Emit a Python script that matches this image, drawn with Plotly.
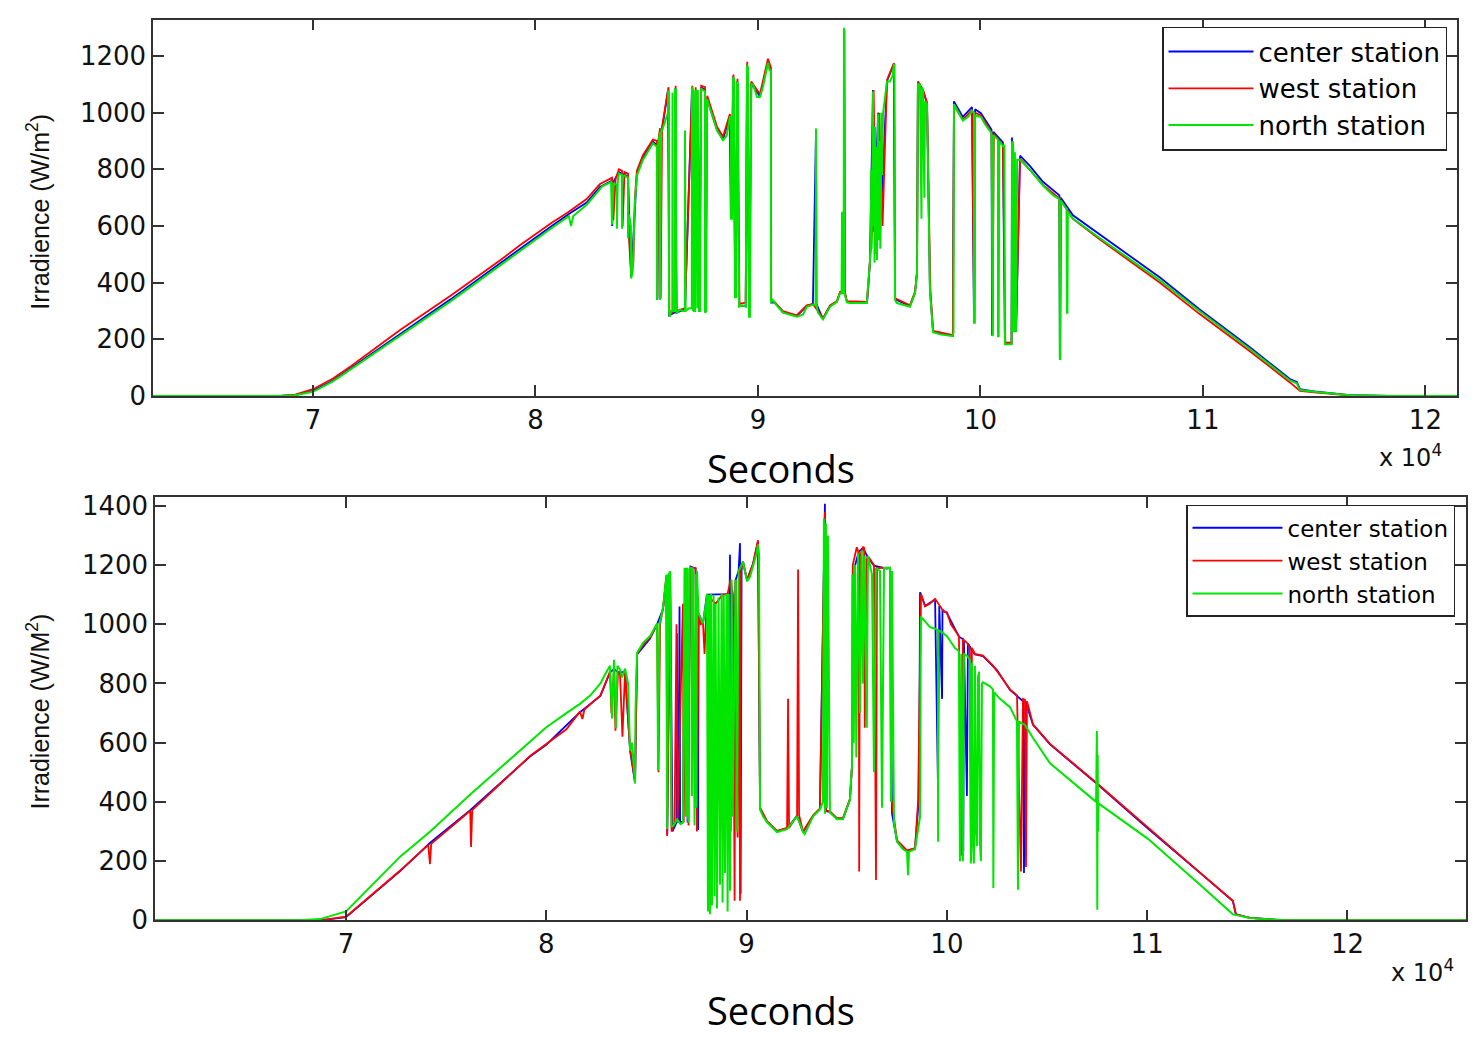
import plotly.graph_objects as go

# Time is in units of 10^4 seconds; irradiance in W/m^2.

# ---------------- upper panel ----------------
top_center = [
    (6.28, 0), (6.85, 0), (6.92, 3), (7.00, 18), (7.09, 55), (7.17, 98), (7.39, 218), (7.62, 342),
    (7.84, 468), (7.93, 520), (8.07, 598), (8.15, 642), (8.23, 683), (8.29, 738), (8.344, 760),
    (8.345, 600), (8.35, 755), (8.375, 790), (8.389, 785), (8.40, 780), (8.416, 775), (8.43, 420),
    (8.447, 690), (8.456, 785), (8.483, 840), (8.528, 898), (8.546, 885), (8.548, 340), (8.552, 885),
    (8.560, 935), (8.569, 940), (8.596, 1080), (8.601, 285), (8.627, 295), (8.628, 1085), (8.634, 295),
    (8.672, 305), (8.704, 1090), (8.712, 300), (8.721, 1080), (8.736, 305), (8.745, 1090), (8.762, 1080),
    (8.765, 296), (8.771, 1050), (8.816, 940), (8.843, 905), (8.874, 990), (8.878, 630), (8.889, 1128),
    (8.898, 350), (8.907, 1112), (8.916, 318), (8.945, 318), (8.951, 1172), (8.961, 282), (8.970, 1102),
    (9.009, 1058), (9.045, 1178), (9.058, 1155), (9.059, 330), (9.076, 330), (9.112, 296), (9.175, 282),
    (9.220, 318), (9.247, 324), (9.261, 940), (9.263, 324), (9.292, 272), (9.324, 318), (9.355, 334),
    (9.369, 365), (9.386, 365), (9.387, 1295), (9.389, 365), (9.40, 332), (9.490, 330), (9.495, 375),
    (9.503, 470), (9.517, 1080), (9.522, 580), (9.540, 1000), (9.552, 620), (9.580, 1112), (9.611, 1172),
    (9.616, 342), (9.683, 318), (9.706, 365), (9.715, 435), (9.719, 1108), (9.742, 1078), (9.760, 1032),
    (9.773, 375), (9.787, 228), (9.876, 213), (9.881, 1040), (9.921, 985), (9.962, 1020), (9.971, 262),
    (9.976, 1012), (10.002, 998), (10.050, 940), (10.052, 214), (10.058, 932), (10.101, 895),
    (10.110, 186), (10.140, 186), (10.142, 912), (10.160, 228), (10.178, 848), (10.222, 812),
    (10.281, 756), (10.355, 708), (10.357, 135), (10.361, 700), (10.416, 638), (10.537, 570),
    (10.807, 418), (10.984, 306), (11.211, 172), (11.391, 60), (11.422, 50), (11.436, 24),
    (11.512, 15), (11.661, 3), (11.840, 0), (12.142, 0),
]

top_west = [
    (6.28, 0), (6.85, 0), (6.92, 5), (7.00, 24), (7.09, 62), (7.17, 105), (7.39, 232), (7.62, 355),
    (7.84, 478), (7.93, 532), (8.07, 610), (8.15, 650), (8.23, 695), (8.29, 748), (8.344, 770),
    (8.35, 620), (8.36, 765), (8.375, 800), (8.389, 795), (8.392, 600), (8.40, 790), (8.416, 785),
    (8.42, 560), (8.43, 430), (8.44, 470), (8.447, 700), (8.456, 795), (8.483, 850), (8.528, 905),
    (8.546, 900), (8.548, 345), (8.552, 900), (8.560, 945), (8.563, 345), (8.569, 950), (8.598, 1090),
    (8.602, 290), (8.629, 300), (8.630, 1095), (8.634, 300), (8.672, 310), (8.705, 1095), (8.713, 305),
    (8.720, 1090), (8.735, 310), (8.745, 1095), (8.762, 1090), (8.764, 300), (8.772, 1060), (8.816, 950),
    (8.843, 915), (8.874, 995), (8.880, 640), (8.890, 1135), (8.899, 360), (8.908, 1120), (8.917, 325),
    (8.945, 330), (8.952, 1180), (8.960, 290), (8.970, 1110), (9.009, 1065), (9.045, 1190), (9.058, 1160),
    (9.060, 335), (9.076, 330), (9.112, 300), (9.175, 285), (9.220, 320), (9.247, 325), (9.292, 275),
    (9.324, 320), (9.355, 335), (9.369, 368), (9.387, 370), (9.389, 1290), (9.391, 368), (9.40, 335),
    (9.490, 332), (9.495, 380), (9.503, 470), (9.515, 600), (9.520, 1080), (9.530, 520), (9.545, 1000),
    (9.560, 600), (9.580, 1115), (9.611, 1175), (9.617, 345), (9.683, 320), (9.706, 368), (9.715, 440),
    (9.719, 1110), (9.742, 1080), (9.760, 1035), (9.775, 380), (9.787, 230), (9.876, 215), (9.881, 1025),
    (9.921, 975), (9.962, 1010), (9.972, 265), (9.976, 1000), (10.002, 990), (10.050, 930),
    (10.055, 215), (10.060, 925), (10.101, 885), (10.112, 188), (10.140, 188), (10.145, 900),
    (10.160, 230), (10.178, 838), (10.281, 745), (10.355, 697), (10.358, 140), (10.362, 690),
    (10.416, 625), (10.537, 552), (10.807, 400), (10.984, 290), (11.211, 158), (11.391, 48),
    (11.436, 18), (11.512, 12), (11.661, 2), (11.840, 0), (12.142, 0),
]

top_north = [
    (6.28, 0), (6.85, 0), (6.92, 3), (7.00, 15), (7.09, 52), (7.17, 95), (7.39, 211), (7.62, 335),
    (7.84, 460), (7.93, 512), (8.07, 591), (8.15, 635), (8.16, 600), (8.17, 635), (8.23, 675),
    (8.29, 730), (8.30, 740), (8.34, 755), (8.344, 605), (8.35, 750), (8.366, 745), (8.366, 590),
    (8.37, 760), (8.375, 785), (8.389, 780), (8.389, 590), (8.39, 775), (8.402, 778), (8.416, 770),
    (8.416, 557), (8.42, 640), (8.429, 600), (8.43, 415), (8.437, 440), (8.447, 685), (8.456, 778),
    (8.483, 833), (8.528, 892), (8.546, 880), (8.546, 339), (8.55, 880), (8.560, 930), (8.560, 339),
    (8.565, 937), (8.569, 937), (8.596, 1000), (8.596, 1075), (8.600, 1075), (8.600, 300), (8.604, 280),
    (8.610, 300), (8.615, 300), (8.616, 1070), (8.618, 300), (8.627, 300), (8.627, 1082), (8.632, 1082),
    (8.632, 300), (8.636, 294), (8.650, 305), (8.660, 300), (8.672, 300), (8.672, 937), (8.675, 300),
    (8.690, 310), (8.703, 310), (8.703, 1089), (8.707, 1085), (8.708, 300), (8.710, 1080), (8.712, 300),
    (8.717, 300), (8.720, 1075), (8.725, 1080), (8.727, 310), (8.730, 1080), (8.735, 300), (8.740, 300),
    (8.745, 1085), (8.753, 1080), (8.762, 1075), (8.762, 294), (8.768, 300), (8.771, 1048), (8.790, 1000),
    (8.816, 937), (8.843, 903), (8.860, 920), (8.874, 985), (8.879, 985), (8.879, 626), (8.884, 626),
    (8.888, 1124), (8.893, 1120), (8.897, 349), (8.902, 349), (8.906, 1110), (8.910, 1100), (8.915, 315),
    (8.930, 320), (8.945, 315), (8.951, 1169), (8.955, 1160), (8.960, 280), (8.964, 280), (8.970, 1100),
    (8.978, 1100), (8.996, 1055), (9.009, 1055), (9.022, 1089), (9.045, 1176), (9.052, 1150),
    (9.058, 1150), (9.058, 328), (9.067, 339), (9.076, 328), (9.112, 294), (9.175, 280), (9.202, 287),
    (9.220, 315), (9.247, 322), (9.259, 322), (9.261, 944), (9.263, 322), (9.270, 294), (9.292, 270),
    (9.324, 315), (9.355, 332), (9.369, 363), (9.376, 363), (9.378, 650), (9.380, 363), (9.385, 363),
    (9.387, 1300), (9.389, 363), (9.400, 330), (9.413, 328), (9.458, 328), (9.490, 328), (9.493, 373),
    (9.503, 467), (9.507, 560), (9.509, 800), (9.511, 520), (9.512, 591), (9.515, 700), (9.517, 1075),
    (9.519, 600), (9.522, 900), (9.524, 470), (9.526, 950), (9.528, 500), (9.530, 820), (9.532, 880),
    (9.535, 480), (9.538, 900), (9.540, 996), (9.542, 600), (9.545, 550), (9.548, 900), (9.550, 520),
    (9.552, 600), (9.555, 1000), (9.558, 780), (9.562, 996), (9.580, 1110), (9.593, 1110), (9.605, 1130),
    (9.611, 1169), (9.614, 1169), (9.616, 339), (9.625, 328), (9.683, 315), (9.706, 363), (9.715, 432),
    (9.719, 1100), (9.728, 1100), (9.735, 626), (9.738, 1090), (9.742, 1075), (9.748, 700),
    (9.751, 1040), (9.760, 1030), (9.773, 373), (9.787, 225), (9.818, 218), (9.876, 211), (9.879, 225),
    (9.881, 1030), (9.899, 1006), (9.921, 972), (9.945, 985), (9.962, 1007), (9.971, 1000),
    (9.971, 259), (9.975, 259), (9.976, 990), (10.002, 985), (10.020, 960), (10.050, 927),
    (10.052, 211), (10.055, 211), (10.058, 920), (10.079, 905), (10.079, 211), (10.082, 211),
    (10.085, 900), (10.101, 882), (10.108, 883), (10.110, 183), (10.133, 183), (10.140, 183),
    (10.142, 899), (10.144, 225), (10.146, 870), (10.148, 880), (10.150, 240), (10.151, 225),
    (10.153, 850), (10.155, 860), (10.158, 260), (10.160, 225), (10.165, 834), (10.178, 834),
    (10.222, 799), (10.281, 743), (10.326, 709), (10.355, 695), (10.357, 131), (10.359, 131),
    (10.361, 690), (10.387, 660), (10.389, 294), (10.391, 294), (10.393, 650), (10.416, 626),
    (10.537, 557), (10.807, 408), (10.984, 300), (11.211, 166), (11.391, 55), (11.422, 45),
    (11.436, 21), (11.512, 14), (11.661, 3), (11.840, 0), (12.142, 0),
]

# ---------------- lower panel ----------------
bottom_center = [
    (6.046, 0), (6.87, 0), (7.00, 11), (7.27, 166), (7.42, 262), (7.62, 372), (7.92, 554), (8.00, 593),
    (8.168, 703), (8.27, 758), (8.318, 838), (8.338, 848), (8.358, 838), (8.393, 838), (8.418, 575),
    (8.443, 463), (8.453, 898), (8.518, 952), (8.553, 1000), (8.583, 1052), (8.600, 1160), (8.604, 290),
    (8.618, 1178), (8.630, 300), (8.650, 330), (8.652, 970), (8.655, 550), (8.660, 330), (8.665, 1060),
    (8.668, 330), (8.682, 335), (8.695, 1190), (8.705, 330), (8.720, 1195), (8.745, 1188), (8.758, 305),
    (8.760, 1036), (8.782, 1003), (8.802, 1100), (8.880, 1100), (8.915, 1102), (8.917, 1235),
    (8.920, 300), (8.925, 870), (8.930, 380), (8.935, 870), (8.945, 1150), (8.960, 1180), (8.967, 1274),
    (8.970, 90), (8.975, 1200), (8.982, 1211), (9.002, 1148), (9.032, 1203), (9.057, 1280), (9.067, 378),
    (9.102, 333), (9.152, 300), (9.202, 310), (9.252, 353), (9.282, 298), (9.332, 353), (9.366, 376),
    (9.391, 1407), (9.396, 368), (9.416, 366), (9.451, 343), (9.481, 343), (9.516, 408), (9.526, 518),
    (9.540, 1195), (9.560, 1245), (9.581, 1258), (9.606, 1225), (9.636, 1198), (9.700, 1188),
    (9.716, 1190), (9.726, 360), (9.751, 268), (9.801, 234), (9.841, 242), (9.861, 420), (9.866, 1108),
    (9.891, 1062), (9.941, 1084), (9.955, 473), (9.962, 1062), (9.976, 748), (9.978, 1050),
    (9.981, 1045), (10.000, 1038), (10.060, 958), (10.080, 950), (10.082, 232), (10.085, 945),
    (10.100, 420), (10.105, 935), (10.140, 898), (10.180, 892), (10.250, 845), (10.315, 778),
    (10.350, 758), (10.380, 740), (10.385, 160), (10.392, 740), (10.430, 660), (10.515, 594),
    (10.749, 461), (11.004, 310), (11.264, 160), (11.428, 65), (11.443, 20), (11.513, 8), (11.688, 0),
    (12.592, 0),
]

bottom_west = [
    (6.046, 0), (6.87, 0), (7.00, 12), (7.27, 168), (7.41, 255), (7.419, 190), (7.425, 258), (7.62, 370),
    (7.624, 248), (7.63, 372), (7.92, 556), (8.00, 595), (8.10, 645), (8.168, 705), (8.18, 680),
    (8.19, 712), (8.27, 760), (8.318, 840), (8.325, 700), (8.338, 850), (8.345, 640), (8.358, 840),
    (8.368, 830), (8.38, 620), (8.393, 840), (8.418, 580), (8.443, 470), (8.453, 900), (8.483, 930),
    (8.518, 955), (8.553, 1000), (8.560, 500), (8.568, 1000), (8.583, 1055), (8.600, 1165),
    (8.603, 285), (8.618, 1175), (8.625, 300), (8.640, 330), (8.650, 1000), (8.655, 330),
    (8.682, 1069), (8.686, 330), (8.700, 1190), (8.710, 320), (8.717, 1191), (8.745, 1190),
    (8.752, 300), (8.760, 1036), (8.770, 1000), (8.782, 1005), (8.790, 900), (8.802, 1100),
    (8.845, 1069), (8.880, 1100), (8.905, 1102), (8.920, 1150), (8.932, 1100), (8.940, 66),
    (8.945, 1150), (8.955, 280), (8.962, 1170), (8.967, 66), (8.972, 1180), (8.982, 1211),
    (9.002, 1150), (9.032, 1205), (9.057, 1284), (9.067, 380), (9.102, 335), (9.152, 302),
    (9.202, 312), (9.207, 748), (9.212, 312), (9.252, 355), (9.257, 1185), (9.262, 355), (9.282, 300),
    (9.332, 355), (9.366, 378), (9.391, 1380), (9.396, 370), (9.416, 368), (9.451, 345), (9.481, 345),
    (9.516, 410), (9.526, 520), (9.530, 1200), (9.550, 1260), (9.560, 1240), (9.562, 165),
    (9.566, 1230), (9.581, 1260), (9.587, 1258), (9.590, 650), (9.600, 1220), (9.606, 1230),
    (9.636, 1200), (9.646, 136), (9.651, 1190), (9.716, 1191), (9.721, 420), (9.736, 340),
    (9.751, 270), (9.801, 236), (9.841, 244), (9.856, 400), (9.871, 1102), (9.891, 1060),
    (9.916, 1070), (9.941, 1086), (9.966, 1060), (9.981, 1046), (10.000, 1040), (10.020, 1000),
    (10.060, 960), (10.075, 218), (10.080, 950), (10.100, 937), (10.115, 920), (10.120, 200),
    (10.125, 920), (10.140, 900), (10.180, 894), (10.230, 860), (10.265, 828), (10.315, 780),
    (10.350, 760), (10.370, 165), (10.380, 748), (10.390, 745), (10.395, 180), (10.400, 740),
    (10.430, 662), (10.515, 596), (10.749, 463), (11.004, 312), (11.264, 161), (11.428, 66),
    (11.443, 20), (11.513, 8), (11.688, 0), (12.592, 0),
]

bottom_north = [
    (6.046, 0), (6.77, 0), (6.87, 4), (7.00, 30), (7.27, 215), (7.42, 300), (7.62, 425), (7.92, 606),
    (8.00, 652), (8.10, 700), (8.168, 731), (8.22, 760), (8.27, 800), (8.293, 830), (8.318, 860),
    (8.328, 682), (8.335, 870), (8.338, 880), (8.348, 649), (8.355, 860), (8.368, 847), (8.378, 820),
    (8.393, 850), (8.408, 800), (8.418, 573), (8.428, 600), (8.443, 463), (8.445, 700), (8.453, 904),
    (8.468, 920), (8.483, 937), (8.518, 960), (8.553, 1003), (8.558, 506), (8.565, 1000), (8.583, 1059),
    (8.600, 1168), (8.603, 308), (8.610, 1168), (8.618, 1178), (8.625, 318), (8.633, 318),
    (8.653, 341), (8.670, 325), (8.682, 330), (8.690, 1191), (8.694, 400), (8.697, 350), (8.699, 1180),
    (8.702, 1191), (8.706, 360), (8.710, 330), (8.713, 1185), (8.717, 1191), (8.724, 1190),
    (8.727, 420), (8.730, 1185), (8.732, 1191), (8.740, 320), (8.746, 1170), (8.749, 380),
    (8.752, 1180), (8.760, 1036), (8.782, 1003), (8.795, 1060), (8.802, 1102), (8.807, 30),
    (8.812, 1100), (8.817, 20), (8.822, 1102), (8.827, 50), (8.835, 1100), (8.840, 80), (8.845, 1069),
    (8.852, 40), (8.860, 1090), (8.867, 120), (8.875, 1102), (8.880, 60), (8.886, 1100), (8.892, 160),
    (8.900, 1102), (8.905, 30), (8.910, 1102), (8.917, 100), (8.925, 1150), (8.930, 350), (8.945, 1150),
    (8.952, 300), (8.960, 1180), (8.982, 1211), (9.002, 1145), (9.017, 1160), (9.032, 1201),
    (9.050, 1240), (9.057, 1270), (9.062, 1240), (9.067, 374), (9.082, 351), (9.102, 331),
    (9.152, 298), (9.202, 308), (9.252, 351), (9.282, 298), (9.290, 291), (9.332, 351), (9.366, 374),
    (9.381, 400), (9.386, 1357), (9.391, 360), (9.396, 1340), (9.401, 380), (9.406, 1300), (9.416, 364),
    (9.451, 341), (9.481, 341), (9.516, 407), (9.521, 473), (9.526, 516), (9.528, 1168), (9.535, 600),
    (9.541, 1200), (9.548, 550), (9.556, 1240), (9.566, 700), (9.575, 1250), (9.581, 800),
    (9.590, 1230), (9.600, 650), (9.606, 1230), (9.616, 1201), (9.626, 1168), (9.636, 500),
    (9.646, 1190), (9.666, 1180), (9.676, 380), (9.686, 1190), (9.716, 1191), (9.721, 400),
    (9.726, 1180), (9.736, 330), (9.751, 265), (9.781, 240), (9.801, 232), (9.806, 152), (9.811, 232),
    (9.841, 240), (9.866, 350), (9.870, 1026), (9.891, 1010), (9.916, 990), (9.941, 985), (9.955, 980),
    (9.956, 265), (9.958, 980), (9.981, 970), (10.000, 960), (10.020, 940), (10.040, 920), (10.060, 910),
    (10.065, 199), (10.072, 900), (10.080, 199), (10.085, 900), (10.100, 894), (10.115, 880),
    (10.120, 192), (10.125, 870), (10.130, 260), (10.135, 192), (10.140, 860), (10.145, 300),
    (10.150, 250), (10.155, 820), (10.160, 840), (10.165, 260), (10.170, 200), (10.175, 800),
    (10.180, 804), (10.215, 790), (10.230, 780), (10.232, 109), (10.236, 770), (10.265, 748),
    (10.315, 720), (10.350, 672), (10.355, 103), (10.360, 672), (10.390, 660), (10.430, 616),
    (10.515, 530), (10.745, 400), (10.749, 639), (10.751, 36), (10.753, 560), (10.755, 300),
    (10.757, 395), (11.004, 275), (11.264, 120), (11.428, 20), (11.513, 8), (11.688, 0), (12.592, 0),
]

station_names = ["center station", "west station", "north station"]
station_colors = ["#0000ff", "#ff0000", "#00e600"]
station_widths = [1.8, 1.8, 2.0]

top_yticks = [0, 200, 400, 600, 800, 1000, 1200]
bottom_yticks = [0, 200, 400, 600, 800, 1000, 1200, 1400]
x_ticks = [7, 8, 9, 10, 11, 12]

W, H = 1477, 1047
fig = go.Figure()

panels = [
    ("x", "y", "legend", [top_center, top_west, top_north]),
    ("x2", "y2", "legend2", [bottom_center, bottom_west, bottom_north]),
]
for xa, ya, leg, series in panels:
    for name, color, lw, pts in zip(station_names, station_colors, station_widths, series):
        t = [p[0] for p in pts]
        v = [p[1] for p in pts]
        fig.add_trace(go.Scatter(
            x=t, y=v, mode="lines", name=name, xaxis=xa, yaxis=ya, legend=leg,
            line=dict(color=color, width=lw),
        ))

axis_style = dict(
    showline=True, linecolor="#333333", linewidth=1.5, mirror="ticks",
    ticks="inside", ticklen=11, tickwidth=1.5, tickcolor="#333333",
    showgrid=False, zeroline=False,
    tickfont=dict(family="DejaVu Sans", size=26, color="#111111"),
)


def px_x(p):
    return p / W


def px_y(p):
    return 1 - p / H


fig.update_layout(
    width=W, height=H, margin=dict(l=0, r=0, t=0, b=0),
    paper_bgcolor="white", plot_bgcolor="white",
    xaxis=dict(domain=[px_x(153), px_x(1457)], range=[6.281, 12.142], anchor="y",
               tickvals=x_ticks, **axis_style),
    yaxis=dict(domain=[px_y(398), px_y(14)], range=[0, 1328], anchor="x",
               tickvals=top_yticks, **axis_style),
    xaxis2=dict(domain=[px_x(155), px_x(1466)], range=[6.046, 12.592], anchor="y2",
                tickvals=x_ticks, **axis_style),
    yaxis2=dict(domain=[px_y(933), px_y(501)], range=[0, 1430], anchor="x2",
                tickvals=bottom_yticks, **axis_style),
    legend=dict(x=px_x(1447), y=px_y(21), xanchor="right", yanchor="top",
                bgcolor="white", bordercolor="#222222", borderwidth=1.5,
                font=dict(family="DejaVu Sans", size=26, color="black"),
                itemwidth=85, tracegroupgap=0),
    legend2=dict(x=px_x(1455), y=px_y(509), xanchor="right", yanchor="top",
                 bgcolor="white", bordercolor="#222222", borderwidth=1.5,
                 font=dict(family="DejaVu Sans", size=23, color="black"),
                 itemwidth=90, tracegroupgap=0),
    showlegend=True,
)

label_font = dict(family="Liberation Sans", size=25, color="#111111")
seconds_font = dict(family="Open Sans", size=38, color="black")
annotations = [
    dict(x=px_x(38), y=px_y(210), text="Irradience (W/m<sup>2</sup>)", textangle=-90,
         font=label_font),
    dict(x=px_x(38), y=px_y(720), text="Irradience (W/M<sup>2</sup>)", textangle=-90,
         font=label_font),
    dict(x=px_x(781), y=px_y(471), text="Seconds", font=seconds_font),
    dict(x=px_x(781), y=px_y(1025), text="Seconds", font=seconds_font),
    dict(x=px_x(1410), y=px_y(459), text="x 10<sup>4</sup>",
         font=dict(family="DejaVu Sans", size=24, color="#111111")),
    dict(x=px_x(1422), y=px_y(985), text="x 10<sup>4</sup>",
         font=dict(family="DejaVu Sans", size=24, color="#111111")),
]
for a in annotations:
    a.update(xref="paper", yref="paper", showarrow=False, xanchor="center", yanchor="middle")
fig.update_layout(annotations=annotations)

fig.write_html("out.html")
